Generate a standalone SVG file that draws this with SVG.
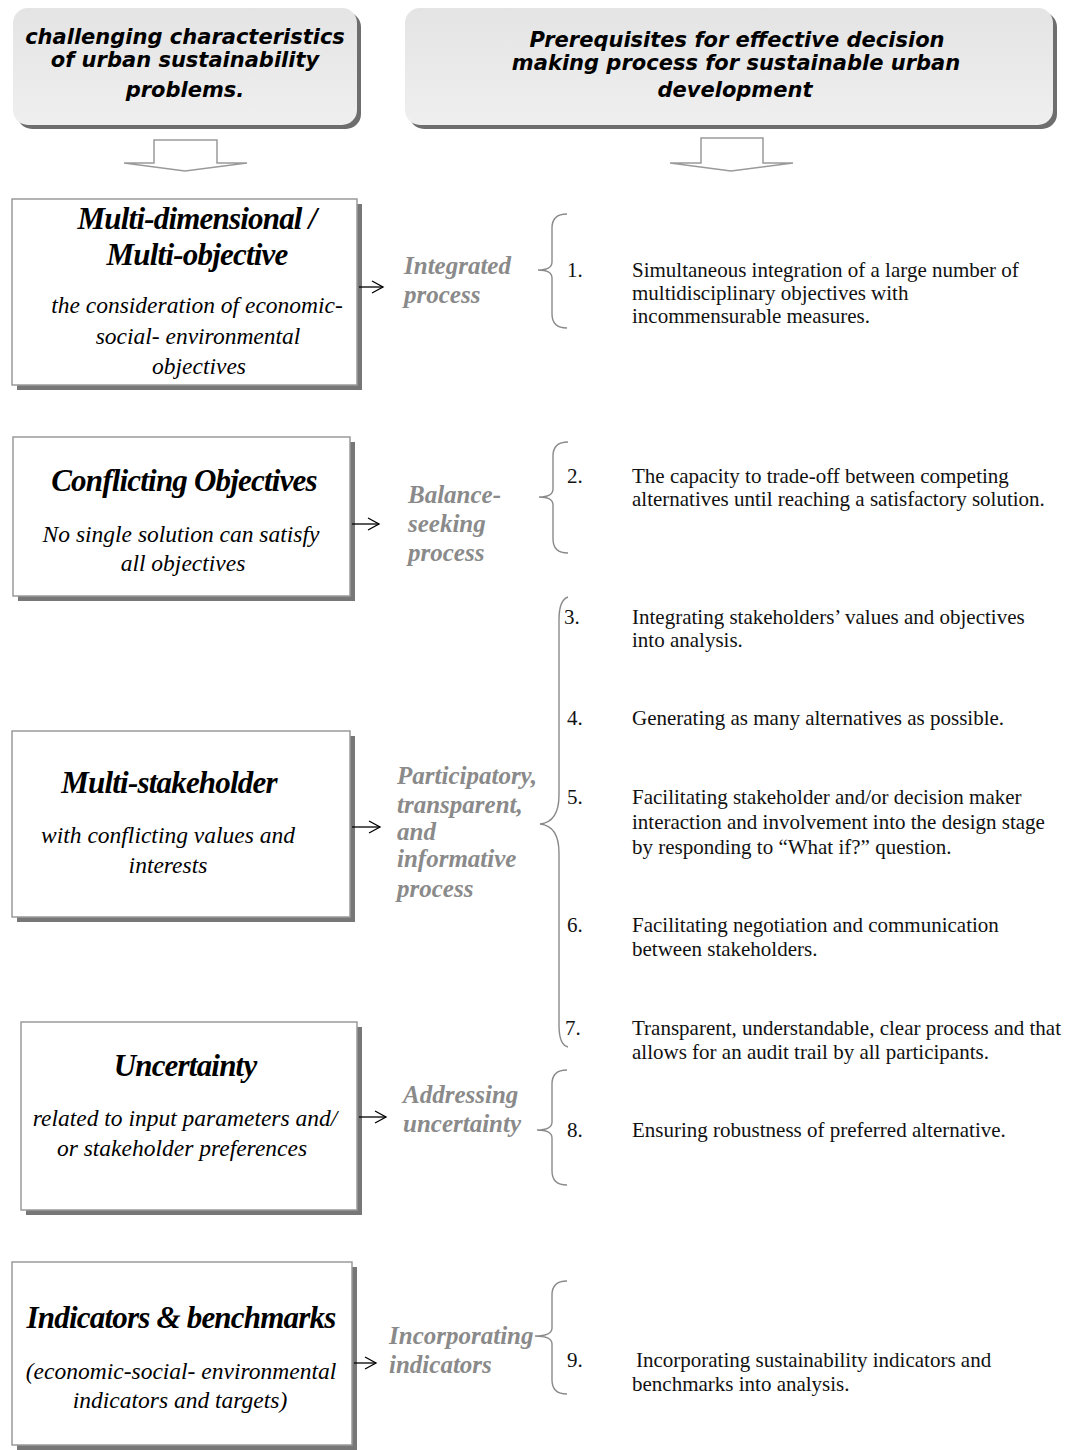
<svg xmlns="http://www.w3.org/2000/svg" width="1070" height="1450" viewBox="0 0 1070 1450">
  <style>
    .hdr { font-family: "DejaVu Sans", Verdana, sans-serif; font-weight: bold; font-style: italic; font-size: 21px; fill: #000; text-anchor: middle; }
    .box { fill: #fff; stroke: #9a9a9a; stroke-width: 1.5; }
    .shadow { fill: #777; }
    .title { font-family: "Liberation Serif", "Times New Roman", serif; font-weight: bold; font-style: italic; font-size: 31px; fill: #000; text-anchor: middle; letter-spacing: -0.8px; }
    .sub { font-family: "Liberation Serif", "Times New Roman", serif; font-style: italic; font-size: 23.5px; fill: #000; text-anchor: middle; }
    .lbl { font-family: "Liberation Serif", "Times New Roman", serif; font-weight: bold; font-style: italic; font-size: 25px; fill: #8a8a8a; }
    .item { font-family: "Liberation Serif", "Times New Roman", serif; font-size: 21px; fill: #111; }
    .brace { fill: none; stroke: #8a8a8a; stroke-width: 1.4; }
    .conn { fill: none; stroke: #000; stroke-width: 1.3; }
    .blk { fill: #fff; stroke: #9a9a9a; stroke-width: 1.5; }
  </style>
  <defs>
    <linearGradient id="hdrFill" x1="0" y1="0" x2="0" y2="1">
      <stop offset="0" stop-color="#e4e4e4"/>
      <stop offset="1" stop-color="#efefef"/>
    </linearGradient>
    <filter id="soft" x="-5%" y="-5%" width="110%" height="110%">
      <feGaussianBlur stdDeviation="0.7"/>
    </filter>
    <marker id="open" markerWidth="14" markerHeight="14" refX="12" refY="7" orient="auto" markerUnits="userSpaceOnUse">
      <path d="M1,1 L12,7 L1,13" fill="none" stroke="#000" stroke-width="1.3"/>
    </marker>
  </defs>
  <rect width="1070" height="1450" fill="#fff"/>

  <!-- Column headers -->
  <g id="header-left">
    <rect x="17" y="12" width="344" height="117" rx="15" filter="url(#soft)" fill="#6e6e6e"/>
    <rect x="13" y="8" width="344" height="117" rx="15" fill="url(#hdrFill)"/>
    <text class="hdr" x="185" y="44">challenging characteristics</text>
    <text class="hdr" x="185" y="67">of urban sustainability</text>
    <text class="hdr" x="185" y="97">problems.</text>
  </g>
  <g id="header-right">
    <rect x="409" y="12" width="648" height="117" rx="15" filter="url(#soft)" fill="#6e6e6e"/>
    <rect x="405" y="8" width="648" height="117" rx="15" fill="url(#hdrFill)"/>
    <text class="hdr" x="737" y="47">Prerequisites for effective decision</text>
    <text class="hdr" x="736" y="70">making process for sustainable urban</text>
    <text class="hdr" x="735" y="97">development</text>
  </g>

  <!-- Left column: characteristics -->
  <g id="node-multidimensional">
    <rect x="17" y="204" width="345" height="186" class="shadow" filter="url(#soft)"/>
    <rect x="12" y="199" width="345" height="186" class="box"/>
    <text class="title" x="197" y="229">Multi-dimensional /</text>
    <text class="title" x="197" y="265">Multi-objective</text>
    <text class="sub" x="197" y="313">the consideration of economic-</text>
    <text class="sub" x="198" y="344">social- environmental</text>
    <text class="sub" x="199" y="374">objectives</text>
  </g>
  <g id="node-conflicting">
    <rect x="18" y="442" width="337" height="159" class="shadow" filter="url(#soft)"/>
    <rect x="13" y="437" width="337" height="159" class="box"/>
    <text class="title" x="184" y="491">Conflicting Objectives</text>
    <text class="sub" x="181" y="542">No single solution can satisfy</text>
    <text class="sub" x="183" y="571">all objectives</text>
  </g>
  <g id="node-multistakeholder">
    <rect x="17" y="736" width="338" height="186" class="shadow" filter="url(#soft)"/>
    <rect x="12" y="731" width="338" height="186" class="box"/>
    <text class="title" x="169" y="793">Multi-stakeholder</text>
    <text class="sub" x="168" y="843">with conflicting values and</text>
    <text class="sub" x="168" y="873">interests</text>
  </g>
  <g id="node-uncertainty">
    <rect x="26" y="1027" width="336" height="188" class="shadow" filter="url(#soft)"/>
    <rect x="21" y="1022" width="336" height="188" class="box"/>
    <text class="title" x="185" y="1076">Uncertainty</text>
    <text class="sub" x="185" y="1126">related to input parameters and/</text>
    <text class="sub" x="182" y="1156">or stakeholder preferences</text>
  </g>
  <g id="node-indicators">
    <rect x="17" y="1267" width="340" height="183" class="shadow" filter="url(#soft)"/>
    <rect x="12" y="1262" width="340" height="183" class="box"/>
    <text class="title" x="181" y="1328">Indicators &amp; benchmarks</text>
    <text class="sub" x="181" y="1379">(economic-social- environmental</text>
    <text class="sub" x="180" y="1408">indicators and targets)</text>
  </g>

  <!-- Process labels -->
  <g id="label-integrated">
    <text class="lbl" x="404" y="274">Integrated</text>
    <text class="lbl" x="404" y="303">process</text>
  </g>
  <g id="label-balance">
    <text class="lbl" x="408" y="503">Balance-</text>
    <text class="lbl" x="408" y="532">seeking</text>
    <text class="lbl" x="408" y="561">process</text>
  </g>
  <g id="label-participatory">
    <text class="lbl" x="397" y="784">Participatory,</text>
    <text class="lbl" x="397" y="813">transparent,</text>
    <text class="lbl" x="397" y="840">and</text>
    <text class="lbl" x="397" y="867">informative</text>
    <text class="lbl" x="397" y="897">process</text>
  </g>
  <g id="label-uncertainty">
    <text class="lbl" x="403" y="1103">Addressing</text>
    <text class="lbl" x="403" y="1132">uncertainty</text>
  </g>
  <g id="label-indicators">
    <text class="lbl" x="389" y="1344">Incorporating</text>
    <text class="lbl" x="389" y="1373">indicators</text>
  </g>

  <!-- Prerequisite items -->
  <g id="item-1">
    <text class="item" x="567" y="277">1.</text>
    <text class="item" x="632" y="277">Simultaneous integration of a large number of</text>
    <text class="item" x="632" y="300">multidisciplinary objectives with</text>
    <text class="item" x="632" y="323">incommensurable measures.</text>
  </g>
  <g id="item-2">
    <text class="item" x="567" y="483">2.</text>
    <text class="item" x="632" y="483">The capacity to trade-off between competing</text>
    <text class="item" x="632" y="506">alternatives until reaching a satisfactory solution.</text>
  </g>
  <g id="item-3">
    <text class="item" x="564" y="624">3.</text>
    <text class="item" x="632" y="624">Integrating stakeholders’ values and objectives</text>
    <text class="item" x="632" y="647">into analysis.</text>
  </g>
  <g id="item-4">
    <text class="item" x="567" y="725">4.</text>
    <text class="item" x="632" y="725">Generating as many alternatives as possible.</text>
  </g>
  <g id="item-5">
    <text class="item" x="567" y="804">5.</text>
    <text class="item" x="632" y="804">Facilitating stakeholder and/or decision maker</text>
    <text class="item" x="632" y="829">interaction and involvement into the design stage</text>
    <text class="item" x="632" y="854">by responding to “What if?” question.</text>
  </g>
  <g id="item-6">
    <text class="item" x="567" y="932">6.</text>
    <text class="item" x="632" y="932">Facilitating negotiation and communication</text>
    <text class="item" x="632" y="956">between stakeholders.</text>
  </g>
  <g id="item-7">
    <text class="item" x="565" y="1035">7.</text>
    <text class="item" x="632" y="1035">Transparent, understandable, clear process and that</text>
    <text class="item" x="632" y="1059">allows for an audit trail by all participants.</text>
  </g>
  <g id="item-8">
    <text class="item" x="567" y="1137">8.</text>
    <text class="item" x="632" y="1137">Ensuring robustness of preferred alternative.</text>
  </g>
  <g id="item-9">
    <text class="item" x="567" y="1367">9.</text>
    <text class="item" x="636" y="1367">Incorporating sustainability indicators and</text>
    <text class="item" x="632" y="1391">benchmarks into analysis.</text>
  </g>

  <!-- Connectors: block arrows, pointer arrows and grouping braces -->
  <g id="connectors">
    <path class="blk" d="M154,140 L217,140 L217,163 L247,163 L185,171 L124,163 L154,163 Z"/>
    <path class="blk" d="M701,138 L763,138 L763,163 L793,163 L731,171 L670,163 L701,163 Z"/>

    <line class="conn" x1="359" y1="287" x2="383" y2="287" marker-end="url(#open)"/>
    <line class="conn" x1="352" y1="524" x2="379" y2="524" marker-end="url(#open)"/>
    <line class="conn" x1="352" y1="827" x2="380" y2="827" marker-end="url(#open)"/>
    <line class="conn" x1="359" y1="1117" x2="386" y2="1117" marker-end="url(#open)"/>
    <line class="conn" x1="354" y1="1363" x2="376" y2="1363" marker-end="url(#open)"/>

    <path class="brace" d="M567,214 Q552,214 552,228 L552,262 Q552,270 538,270 Q552,270 552,278 L552,314 Q552,328 567,328"/>
    <path class="brace" d="M568,442 Q553,442 553,456 L553,489 Q553,497 539,497 Q553,497 553,505 L553,539 Q553,553 568,553"/>
    <path class="brace" d="M568,597 Q559,600 559,620 L559,795 Q559,822 540,824 Q559,826 559,853 L559,1025 Q559,1045 568,1047"/>
    <path class="brace" d="M567,1070 Q552,1070 552,1084 L552,1122 Q552,1130 537,1130 Q552,1130 552,1138 L552,1171 Q552,1185 567,1185"/>
    <path class="brace" d="M567,1281 Q552,1281 552,1295 L552,1328 Q552,1336 535,1336 Q552,1336 552,1344 L552,1380 Q552,1394 567,1394"/>
  </g>
</svg>
